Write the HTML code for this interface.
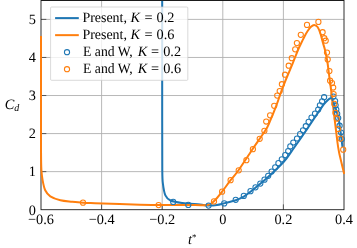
<!DOCTYPE html>
<html><head><meta charset="utf-8"><title>Cd vs t*</title>
<style>
html,body{margin:0;padding:0;background:#fff;}
body{width:357px;height:248px;overflow:hidden;font-family:"Liberation Serif",serif;}
svg{display:block;}
svg{will-change:transform;}
svg text{font-family:"Liberation Serif",serif;fill:#000;text-rendering:geometricPrecision;}
</style></head><body>
<svg width="357" height="248" viewBox="0 0 357 248">
<rect x="0" y="0" width="357" height="248" fill="#fff"/>
<defs><clipPath id="ax"><rect x="40.00" y="0.00" width="305.00" height="209.70"/></clipPath></defs>
<g stroke="#b0b0b0" stroke-width="0.9" fill="none">
<line x1="101.60" y1="0.50" x2="101.60" y2="209.70"/>
<line x1="162.20" y1="0.50" x2="162.20" y2="209.70"/>
<line x1="222.80" y1="0.50" x2="222.80" y2="209.70"/>
<line x1="283.40" y1="0.50" x2="283.40" y2="209.70"/>
<line x1="41.00" y1="171.64" x2="344.00" y2="171.64"/>
<line x1="41.00" y1="133.58" x2="344.00" y2="133.58"/>
<line x1="41.00" y1="95.52" x2="344.00" y2="95.52"/>
<line x1="41.00" y1="57.46" x2="344.00" y2="57.46"/>
<line x1="41.00" y1="19.40" x2="344.00" y2="19.40"/>
</g>
<g stroke="#4a4a4a" stroke-width="0.9" fill="none">
<line x1="101.60" y1="209.70" x2="101.60" y2="204.40"/>
<line x1="162.20" y1="209.70" x2="162.20" y2="204.40"/>
<line x1="222.80" y1="209.70" x2="222.80" y2="204.40"/>
<line x1="283.40" y1="209.70" x2="283.40" y2="204.40"/>
<line x1="41.00" y1="171.64" x2="46.30" y2="171.64"/>
<line x1="41.00" y1="133.58" x2="46.30" y2="133.58"/>
<line x1="41.00" y1="95.52" x2="46.30" y2="95.52"/>
<line x1="41.00" y1="57.46" x2="46.30" y2="57.46"/>
<line x1="41.00" y1="19.40" x2="46.30" y2="19.40"/>
</g>
<rect x="41.00" y="0.50" width="303.00" height="209.20" fill="none" stroke="#1a1a1a" stroke-width="0.9"/>
<g clip-path="url(#ax)" fill="none" stroke-linejoin="round" stroke-linecap="butt">
<path d="M162.20,-2.00 C162.20,18.33 162.18,91.33 162.20,120.00 C162.22,148.67 162.18,159.40 162.30,170.00 C162.42,180.60 162.38,179.37 162.90,183.60 C163.42,187.83 164.13,192.58 165.40,195.40 C166.67,198.22 167.67,199.23 170.50,200.50 C173.33,201.77 177.48,202.32 182.40,203.00 C187.32,203.68 195.63,204.17 200.00,204.60 C204.37,205.03 205.77,205.53 208.60,205.60 C211.43,205.67 214.47,205.37 217.00,205.00 C219.53,204.63 220.68,204.20 223.80,203.40 C226.92,202.60 232.30,201.38 235.70,200.20 C239.10,199.02 241.80,197.67 244.20,196.30 C246.60,194.93 246.30,195.05 250.10,192.00 C253.90,188.95 261.35,183.08 267.00,178.00 C272.65,172.92 279.75,166.17 284.00,161.50 C288.25,156.83 288.75,155.25 292.50,150.00 C296.25,144.75 301.70,137.03 306.50,130.00 C311.30,122.97 317.90,112.63 321.30,107.80 C324.70,102.97 325.30,102.60 326.90,101.00 C328.50,99.40 329.77,97.82 330.90,98.20 C332.03,98.58 332.75,101.13 333.70,103.30 C334.65,105.47 335.75,108.42 336.60,111.20 C337.45,113.98 338.13,116.53 338.80,120.00 C339.47,123.47 340.05,128.00 340.60,132.00 C341.15,136.00 341.78,141.50 342.10,144.00 C342.42,146.50 342.43,146.50 342.50,147.00" stroke="#1f77b4" stroke-width="2.0"/>
<path d="M41.00,36.00 C41.00,50.00 40.99,100.17 41.00,120.00 C41.01,139.83 40.98,146.67 41.05,155.00 C41.12,163.33 41.14,165.80 41.40,170.00 C41.66,174.20 41.97,176.82 42.60,180.20 C43.23,183.58 43.92,187.62 45.20,190.30 C46.48,192.98 47.77,194.65 50.30,196.30 C52.83,197.95 56.73,199.30 60.40,200.20 C64.07,201.10 68.48,201.28 72.30,201.70 C76.12,202.12 79.52,202.45 83.30,202.70 C87.08,202.95 85.55,202.87 95.00,203.20 C104.45,203.53 127.50,204.40 140.00,204.70 C152.50,205.00 160.83,204.97 170.00,205.00 C179.17,205.03 189.42,204.85 195.00,204.90 C200.58,204.95 201.33,205.32 203.50,205.30 C205.67,205.28 206.58,205.18 208.00,204.80 C209.42,204.42 210.50,204.13 212.00,203.00 C213.50,201.87 215.32,199.88 217.00,198.00 C218.68,196.12 219.83,194.67 222.10,191.70 C224.37,188.73 227.83,183.82 230.60,180.20 C233.37,176.58 235.13,175.03 238.70,170.00 C242.27,164.97 247.52,156.67 252.00,150.00 C256.48,143.33 262.67,134.67 265.60,130.00 C268.53,125.33 267.80,126.10 269.60,122.00 C271.40,117.90 274.43,110.57 276.40,105.40 C278.37,100.23 279.88,95.15 281.40,91.00 C282.92,86.85 283.63,85.07 285.50,80.50 C287.37,75.93 290.52,68.68 292.60,63.60 C294.68,58.52 296.72,53.10 298.00,50.00 C299.28,46.90 299.22,47.25 300.30,45.00 C301.38,42.75 303.25,38.87 304.50,36.50 C305.75,34.13 306.72,32.42 307.80,30.80 C308.88,29.18 309.93,27.77 311.00,26.80 C312.07,25.83 313.10,24.97 314.20,25.00 C315.30,25.03 316.57,25.58 317.60,27.00 C318.63,28.42 319.50,30.83 320.40,33.50 C321.30,36.17 322.23,40.25 323.00,43.00 C323.77,45.75 324.27,46.83 325.00,50.00 C325.73,53.17 326.67,57.45 327.40,62.00 C328.13,66.55 328.77,72.47 329.40,77.30 C330.03,82.13 330.35,84.22 331.20,91.00 C332.05,97.78 333.47,109.50 334.50,118.00 C335.53,126.50 336.65,136.33 337.40,142.00 C338.15,147.67 338.35,148.67 339.00,152.00 C339.65,155.33 340.53,158.75 341.30,162.00 C342.07,165.25 343.12,169.50 343.60,171.50 C344.08,173.50 344.10,173.58 344.20,174.00" stroke="#ff7f0e" stroke-width="2.0"/>
</g>
<g fill="none">
<g stroke="#1f77b4" stroke-width="1.05">
<circle cx="173.2" cy="201.9" r="2.6"/><circle cx="188.3" cy="204.9" r="2.6"/><circle cx="208.6" cy="205.6" r="2.6"/><circle cx="224.2" cy="203.4" r="2.6"/><circle cx="235.7" cy="199.8" r="2.6"/><circle cx="243.8" cy="195.9" r="2.6"/><circle cx="250.5" cy="191.2" r="2.6"/><circle cx="255.5" cy="187.3" r="2.6"/><circle cx="260.3" cy="183.6" r="2.6"/><circle cx="264.5" cy="179.7" r="2.6"/><circle cx="268.2" cy="175.8" r="2.6"/><circle cx="271.6" cy="171.5" r="2.6"/><circle cx="275.2" cy="167.3" r="2.6"/><circle cx="278.4" cy="163.2" r="2.6"/><circle cx="281.8" cy="159.3" r="2.6"/><circle cx="285.2" cy="155.1" r="2.6"/><circle cx="288.2" cy="151.0" r="2.6"/><circle cx="290.3" cy="146.4" r="2.6"/><circle cx="293.3" cy="142.5" r="2.6"/><circle cx="297.0" cy="138.5" r="2.6"/><circle cx="300.1" cy="134.2" r="2.6"/><circle cx="303.0" cy="130.3" r="2.6"/><circle cx="305.8" cy="126.2" r="2.6"/><circle cx="308.6" cy="121.8" r="2.6"/><circle cx="311.5" cy="117.6" r="2.6"/><circle cx="315.0" cy="113.5" r="2.6"/><circle cx="318.2" cy="109.5" r="2.6"/><circle cx="319.9" cy="105.3" r="2.6"/><circle cx="322.1" cy="101.4" r="2.6"/><circle cx="324.1" cy="97.2" r="2.6"/><circle cx="333.4" cy="96.5" r="2.6"/><circle cx="335.1" cy="101.1" r="2.6"/><circle cx="335.6" cy="105.3" r="2.6"/><circle cx="336.3" cy="109.6" r="2.6"/><circle cx="337.2" cy="113.8" r="2.6"/><circle cx="338.2" cy="118.1" r="2.6"/><circle cx="339.6" cy="125.7" r="2.6"/><circle cx="341.0" cy="132.5" r="2.6"/><circle cx="341.8" cy="139.0" r="2.6"/>
</g>
<g stroke="#ff7f0e" stroke-width="1.05">
<circle cx="83.0" cy="202.7" r="2.6"/><circle cx="158.6" cy="205.1" r="2.6"/><circle cx="214.0" cy="201.4" r="2.6"/><circle cx="222.1" cy="191.7" r="2.6"/><circle cx="230.6" cy="180.2" r="2.6"/><circle cx="238.7" cy="170.3" r="2.6"/><circle cx="246.4" cy="160.2" r="2.6"/><circle cx="252.9" cy="149.2" r="2.6"/><circle cx="259.7" cy="138.8" r="2.6"/><circle cx="264.4" cy="130.8" r="2.6"/><circle cx="266.2" cy="121.5" r="2.6"/><circle cx="270.1" cy="115.3" r="2.6"/><circle cx="274.2" cy="105.8" r="2.6"/><circle cx="277.2" cy="95.6" r="2.6"/><circle cx="279.7" cy="91.0" r="2.6"/><circle cx="281.9" cy="84.2" r="2.6"/><circle cx="285.0" cy="74.7" r="2.6"/><circle cx="288.7" cy="65.7" r="2.6"/><circle cx="291.8" cy="58.2" r="2.6"/><circle cx="295.2" cy="49.3" r="2.6"/><circle cx="296.9" cy="43.1" r="2.6"/><circle cx="300.8" cy="34.8" r="2.6"/><circle cx="307.0" cy="24.9" r="2.6"/><circle cx="318.4" cy="21.9" r="2.6"/><circle cx="322.6" cy="32.2" r="2.6"/><circle cx="324.3" cy="38.2" r="2.6"/><circle cx="325.7" cy="40.7" r="2.6"/><circle cx="327.0" cy="52.6" r="2.6"/><circle cx="327.7" cy="59.4" r="2.6"/><circle cx="329.4" cy="71.1" r="2.6"/><circle cx="330.1" cy="80.7" r="2.6"/><circle cx="332.0" cy="83.0" r="2.6"/><circle cx="333.2" cy="87.5" r="2.6"/><circle cx="333.6" cy="94.0" r="2.6"/><circle cx="334.3" cy="103.9" r="2.6"/><circle cx="335.4" cy="112.9" r="2.6"/><circle cx="336.8" cy="118.7" r="2.6"/><circle cx="338.2" cy="129.0" r="2.6"/><circle cx="340.4" cy="138.6" r="2.6"/><circle cx="343.2" cy="149.7" r="2.6"/>
</g>
</g>
<line x1="41.00" y1="0.50" x2="344.00" y2="0.50" stroke="#1a1a1a" stroke-width="0.9"/>
<rect x="50.60" y="7.00" width="137.20" height="73.30" rx="0.9" ry="0.9" fill="#fff" fill-opacity="0.8" stroke="#ccc" stroke-opacity="0.8" stroke-width="0.9"/>
<line x1="55.1" y1="18.10" x2="78.8" y2="18.10" stroke="#1f77b4" stroke-width="2.0"/>
<line x1="55.1" y1="35.15" x2="78.8" y2="35.15" stroke="#ff7f0e" stroke-width="2.0"/>
<circle cx="67.0" cy="52.20" r="2.6" fill="none" stroke="#1f77b4" stroke-width="1.05"/>
<circle cx="67.0" cy="69.20" r="2.6" fill="none" stroke="#ff7f0e" stroke-width="1.05"/>
<g transform="translate(82.40,22.15) scale(0.975,1)"><text x="0" y="0" font-size="14.3">Present,</text></g>
<text x="130.50" y="22.15" font-size="14.3" font-style="italic">K</text>
<text x="144.40" y="22.15" font-size="14.3">=</text>
<text x="156.50" y="22.15" font-size="14.3">0.2</text>
<g transform="translate(82.40,39.20) scale(0.975,1)"><text x="0" y="0" font-size="14.3">Present,</text></g>
<text x="130.50" y="39.20" font-size="14.3" font-style="italic">K</text>
<text x="144.40" y="39.20" font-size="14.3">=</text>
<text x="156.50" y="39.20" font-size="14.3">0.6</text>
<g transform="translate(83.10,56.20) scale(0.955,1)"><text x="0" y="0" font-size="14.3">E and W,</text></g>
<text x="137.70" y="56.20" font-size="14.3" font-style="italic">K</text>
<text x="151.10" y="56.20" font-size="14.3">=</text>
<text x="163.20" y="56.20" font-size="14.3">0.2</text>
<g transform="translate(83.10,73.20) scale(0.955,1)"><text x="0" y="0" font-size="14.3">E and W,</text></g>
<text x="137.70" y="73.20" font-size="14.3" font-style="italic">K</text>
<text x="151.10" y="73.20" font-size="14.3">=</text>
<text x="163.20" y="73.20" font-size="14.3">0.6</text>
<text x="41.00" y="224.0" font-size="14.3" text-anchor="middle">−0.6</text>
<text x="101.60" y="224.0" font-size="14.3" text-anchor="middle">−0.4</text>
<text x="162.20" y="224.0" font-size="14.3" text-anchor="middle">−0.2</text>
<text x="222.80" y="224.0" font-size="14.3" text-anchor="middle">0</text>
<text x="283.40" y="224.0" font-size="14.3" text-anchor="middle">0.2</text>
<text x="344.00" y="224.0" font-size="14.3" text-anchor="middle">0.4</text>
<text x="36.0" y="215.00" font-size="14.3" text-anchor="end">0</text>
<text x="36.0" y="176.44" font-size="14.3" text-anchor="end">1</text>
<text x="36.0" y="138.38" font-size="14.3" text-anchor="end">2</text>
<text x="36.0" y="100.32" font-size="14.3" text-anchor="end">3</text>
<text x="36.0" y="62.26" font-size="14.3" text-anchor="end">4</text>
<text x="36.0" y="24.20" font-size="14.3" text-anchor="end">5</text>
<text x="4.7" y="108.5" font-size="14.3" font-style="italic">C<tspan font-size="10.0" dy="2.6">d</tspan></text>
<text x="188" y="243.6" font-size="14.3" font-style="italic">t<tspan font-size="8.9" dy="-3.2" font-style="normal">*</tspan></text>
</svg>
</body></html>
